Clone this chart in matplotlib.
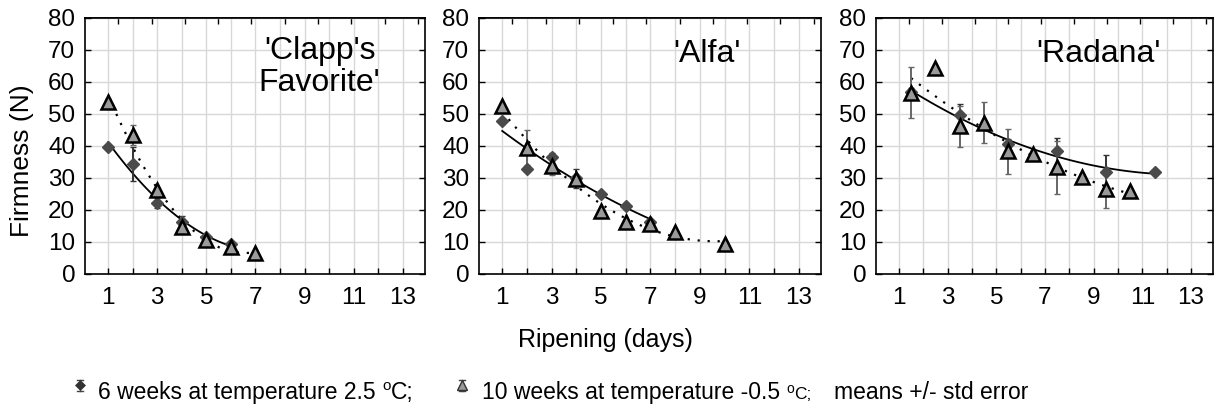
import numpy as np
import matplotlib
matplotlib.use("Agg")
import matplotlib.pyplot as plt
from matplotlib.lines import Line2D

plt.rcParams['font.family'] = ['Liberation Sans', 'DejaVu Sans']

# --- data ---
cultivars = ["'Clapp's\nFavorite'", "'Alfa'", "'Radana'"]

# 6 weeks at 2.5 C (diamonds)
clapp_d_x = [1, 2, 3, 4, 5, 6]
clapp_d_y = [39.8, 34.4, 22.3, 16.4, 11.5, 9.3]
clapp_d_err = [0.6, 5.3, 1.7, 1.6, 0.8, 0.6]
# 10 weeks at -0.5 C (triangles)
clapp_t_x = [1, 2, 3, 4, 5, 6, 7]
clapp_t_y = [53.9, 43.5, 26.1, 14.8, 10.6, 8.3, 6.5]
clapp_t_err = [0.8, 3.1, 0.8, 1.5, 0.8, 0.6, 0.5]

alfa_d_x = [1, 2, 3, 4, 5, 6, 7]
alfa_d_y = [47.7, 32.8, 36.7, 29.9, 24.9, 21.3, 16.4]
alfa_d_err = [0.6, 0.6, 1.0, 3.0, 0.8, 0.8, 0.6]
alfa_t_x = [1, 2, 3, 4, 5, 6, 7, 8, 10]
alfa_t_y = [52.6, 39.5, 33.6, 29.7, 19.8, 16.4, 15.6, 13.0, 9.3]
alfa_t_err = [0.6, 5.4, 2.6, 1.0, 0.6, 0.6, 0.6, 0.6, 0.6]

radana_d_x = [1.5, 3.5, 5.5, 7.5, 9.5, 11.5]
radana_d_y = [57.0, 49.6, 40.6, 38.3, 31.8, 31.8]
radana_d_err = [1.0, 3.5, 1.5, 4.3, 5.5, 0.6]
radana_t_x = [1.5, 2.5, 3.5, 4.5, 5.5, 6.5, 7.5, 8.5, 9.5, 10.5]
radana_t_y = [56.7, 64.3, 46.1, 47.3, 38.3, 37.5, 33.3, 30.4, 26.6, 25.8]
radana_t_err = [8.1, 0.6, 6.5, 6.4, 6.9, 0.8, 8.4, 0.8, 6.0, 0.8]

panels = [
    (clapp_d_x, clapp_d_y, clapp_d_err, clapp_t_x, clapp_t_y, clapp_t_err),
    (alfa_d_x, alfa_d_y, alfa_d_err, alfa_t_x, alfa_t_y, alfa_t_err),
    (radana_d_x, radana_d_y, radana_d_err, radana_t_x, radana_t_y, radana_t_err),
]

x_ticks = [1, 3, 5, 7, 9, 11, 13]
y_ticks = [0, 10, 20, 30, 40, 50, 60, 70, 80]

W, H = 1215, 408
fig = plt.figure(figsize=(W / 100, H / 100), dpi=100)

lefts = [85, 479, 876]
widths = [340, 342, 337]
top, bottom = 18, 274
# title anchor (axes fraction, baseline of the last line)
title_pos = [(0.69, 0.715), (0.667, 0.828), (0.659, 0.828)]

XMIN, XMAX = 0.06, 13.9

for i, (dx, dy, de, tx, ty, te) in enumerate(panels):
    ax = fig.add_axes([lefts[i] / W, 1 - bottom / H, widths[i] / W, (bottom - top) / H])
    ax.set_xlim(XMIN, XMAX)
    ax.set_ylim(0, 80)
    ax.set_xticks(x_ticks)
    ax.set_xticks(np.arange(1, 14), minor=True)
    ax.set_yticks(y_ticks)
    ax.grid(True, which='both', color='#d8d8d8', lw=1.0, zorder=0)
    ax.set_axisbelow(True)
    ax.tick_params(axis='x', which='both', direction='in', length=4, width=1,
                   labelsize=17.5, pad=9, top=False)
    ax.tick_params(axis='y', which='both', direction='in', length=4, width=1,
                   labelsize=17.5, pad=7, right=True)
    for s in ax.spines.values():
        s.set_linewidth(1.2)

    # top axis ticks (separate scale as in the original)
    sec = ax.secondary_xaxis('top')
    sec.set_xticks(XMIN + np.arange(1, 11) * 1.355)
    sec.tick_params(direction='in', length=4, width=1, labeltop=False)
    sec.spines['top'].set_linewidth(1.2)

    # fitted curves
    dxa, dya = np.array(dx), np.array(dy)
    txa, tya = np.array(tx), np.array(ty)
    xs = np.linspace(dxa.min(), dxa.max(), 100)
    ax.plot(xs, np.polyval(np.polyfit(dxa, dya, 2), xs), color='black', lw=1.3, zorder=3)
    xs = np.linspace(txa.min(), txa.max(), 100)
    ax.plot(xs, np.polyval(np.polyfit(txa, tya, 2), xs), color='black', lw=1.6,
            ls=(0, (1, 3.5)), zorder=3)

    ax.errorbar(dx, dy, yerr=de, fmt='none', ecolor='#333333', elinewidth=1.4,
                capsize=2, capthick=1, zorder=4)
    ax.errorbar(tx, ty, yerr=te, fmt='none', ecolor='#666666', elinewidth=1.4,
                capsize=2, capthick=1, zorder=4)
    ax.plot(dx, dy, 'D', ms=6, color='#4a4a4a', mec='#4a4a4a', ls='none', zorder=5)
    ax.plot(tx, ty, '^', ms=10, mfc='#9a9a9a', mec='black', mew=1.8, ls='none', zorder=6)

    ax.text(title_pos[i][0], title_pos[i][1], cultivars[i], transform=ax.transAxes,
            ha='center', va='baseline', fontsize=23, linespacing=1.1)

fig.text(22 / W, 1 - 161 / H, 'Firmness (N)', rotation=90, ha='center', va='center',
         fontsize=19)
fig.text(605 / W, 1 - 347 / H, 'Ripening (days)', ha='center', va='baseline', fontsize=18)


# legend built from pieces
def icon(xp, yp, marker, mfc, mec, ms, mew):
    fx, fy = xp / W, 1 - yp / H
    h = 5.5 / H
    c = 3 / W
    fig.add_artist(Line2D([fx, fx], [fy - h, fy + h], color='#444444', lw=1,
                          transform=fig.transFigure))
    for yy in (fy - h, fy + h):
        fig.add_artist(Line2D([fx - c, fx + c], [yy, yy], color='#444444', lw=1,
                              transform=fig.transFigure))
    fig.add_artist(Line2D([fx], [fy], marker=marker, ms=ms, mfc=mfc, mec=mec, mew=mew,
                          ls='none', transform=fig.transFigure))


renderer = fig.canvas.get_renderer()


def chain(x, y, s, size, dy=0):
    t = fig.text(x / W, 1 - (y - dy) / H, s, fontsize=size, ha='left', va='baseline')
    bb = t.get_window_extent(renderer)
    return bb.x1


base = 399
icon(80, 385, 'D', '#333333', '#333333', 5.5, 0.5)
x = chain(98, base, '6 weeks at temperature 2.5 ', 16.5)
x = chain(x, base, 'o', 11, dy=9)
x = chain(x, base, 'C;', 16.5)
icon(462, 385, '^', '#9a9a9a', '#333333', 6.5, 1)
x = chain(482, base, '10 weeks at temperature -0.5 ', 16.5)
x = chain(x, base, 'o', 10, dy=6)
x = chain(x, base, 'C;', 12.5)
chain(x + 22, base, 'means +/- std error', 16.5)

fig.savefig('out.png', dpi=100)
